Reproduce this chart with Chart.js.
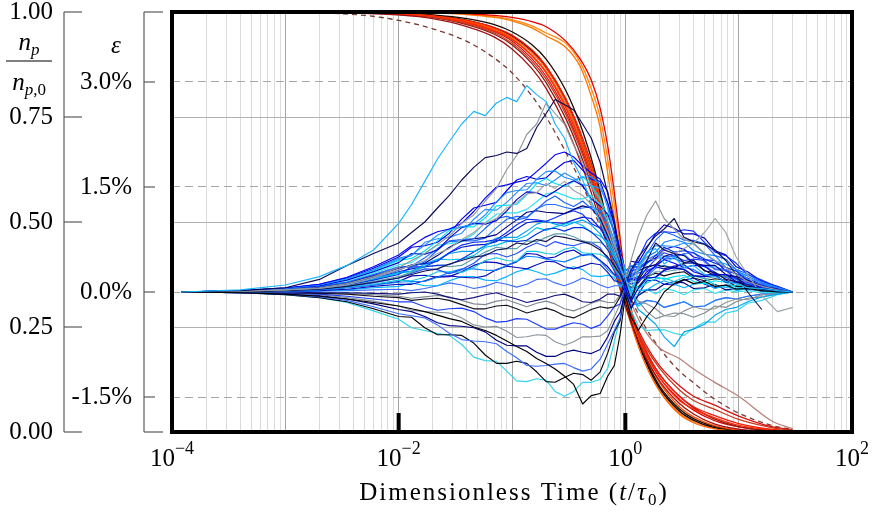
<!DOCTYPE html>
<html>
<head>
<meta charset="utf-8">
<script src="https://cdn.jsdelivr.net/npm/chart.js@4.4.1/dist/chart.umd.min.js"></script>
<style>
  html, body { margin: 0; padding: 0; background: #fff; }
  canvas { display: block; }
</style>
</head>
<body>
<canvas id="lifetimeChart" width="874" height="517"></canvas>
<script>
// =========================
// DATA
// =========================

// tick labels
const xLabelExps = [-4, -2, 0, 2];
const nTicks = [0, 0.25, 0.5, 0.75, 1];
const epsTicks = [-1.5, 0, 1.5, 3.0];

// time grid of the strain (epsilon) traces, t/tau0
const tEps = [0.00012, 0.0004, 0.001, 0.002, 0.0035, 0.006, 0.01, 0.013, 0.017, 0.022,
  0.028, 0.036, 0.046, 0.058, 0.073, 0.09, 0.11, 0.135, 0.165, 0.2,
  0.24, 0.29, 0.35, 0.42, 0.5, 0.6, 0.7, 0.8, 0.9, 1.0,
  1.12, 1.3, 1.55, 1.85, 2.2, 2.7, 3.3, 4.0, 5.0, 6.2,
  7.7, 9.5, 12, 16, 22, 30];

// epsilon traces, in %
const eps01 = [0,.03,.1,.22,.38,.6,.98,1.25,1.58,1.9, 2.15,2.4,2.58,2.52,2.7,2.78,2.72,2.95,2.82,2.72, 2.4,2.2,1.85,1.6,1.3,1.0,.75,.55,.35,.2, -.05,.3,.55,.62,.4,.5,.35,.38,.25,.22, .15,.12,.06,.05,.02,0];
const eps02 = [0,.02,.06,.18,.38,.55,.7,.85,1.0,1.2, 1.38,1.6,1.78,1.92,1.95,2.0,1.98,2.05,2.35,2.55, 2.75,2.68,2.6,2.4,2.2,1.85,1.4,.95,.5,.15, -.1,.2,.45,.7,.6,.55,.42,.45,.3,.28, .18,.15,.08,.05,.02,0];
const eps03 = [0,-.01,-.03,-.06,-.1,-.15,-.2,-.24,-.28,-.33, -.38,-.42,-.5,-.55,-.62,-.7,-.78,-.85,-.95,-1.02, -1.1,-1.2,-1.32,-1.6,-1.48,-1.45,-1.2,-1.05,-.6,-.05, -.35,-.55,-.35,-.2,0,.12,.18,.12,.15,.08, .1,.04,.05,.02,0,0];
const eps04 = [0,.01,.03,.06,.12,.22,.35,.45,.55,.68, .8,.98,1.1,1.3,1.48,1.75,1.95,2.25,2.4,2.7, 2.55,2.4,2.1,1.85,1.5,1.3,1.0,.7,.45,.2, .45,.8,1.1,1.3,1.05,.9,.75,.7,.55,.45, .35,.25,.15,.08,.03,0];
const eps05 = [0,.01,.03,.05,.1,.2,.32,.38,.45,.55, .62,.75,.85,.98,1.05,1.2,1.28,1.4,1.42,1.55, 1.48,1.58,1.45,1.38,1.25,1.1,.85,.6,.35,.15, .1,.35,.5,.45,.6,.55,.62,.7,.85,1.05, .85,.5,.25,-.05,-.28,-.22];
const eps06 = [0,0,.02,.04,.08,.14,.2,.25,.3,.33, .4,.45,.5,.52,.6,.62,.7,.68,.75,.72, .8,.78,.75,.72,.68,.6,.5,.38,.25,.1, .3,.5,.65,.8,.9,1.05,.78,.72,.68,.6, .45,.25,0,-.25,null,null];
const eps07 = [0,.02,.06,.11,.21,.36,.53,.66,.78,.86, .9,.98,1.15,1.34,1.5,1.53,1.57,1.6,1.72,1.84, 1.96,2.0,1.93,1.8,1.7,1.61,1.43,1.02,.52,.15, .19,.17,.25,.38,.46,.41,.35,.38,.37,.25, .25,.15,.14,.06,.04,0];
const eps08 = [0,.02,.05,.1,.19,.32,.48,.53,.67,.81, .9,.93,.97,1.1,1.29,1.42,1.45,1.46,1.61,1.72, 1.73,1.64,1.6,1.64,1.65,1.54,1.2,.8,.54,.25, .2,.37,.57,.66,.66,.65,.7,.69,.55,.44, .4,.32,.19,.14,.06,0];
const eps09 = [0,.02,.05,.09,.17,.29,.42,.55,.54,.6, .77,.92,.98,.97,1.02,1.16,1.32,1.43,1.42,1.36, 1.44,1.53,1.59,1.52,1.33,1.23,1.11,.86,.42,.05, -.13,.05,.2,.21,.31,.35,.32,.23,.22,.24, .14,.14,.11,.04,.02,0];
const eps10 = [0,.02,.05,.1,.18,.3,.45,.48,.59,.73, .88,.93,.93,1.06,1.23,1.24,1.25,1.39,1.55,1.62, 1.55,1.51,1.58,1.65,1.53,1.33,1.07,.85,.54,.3, .17,.05,.18,.22,.18,.22,.24,.15,.12,.16, .14,.06,.06,.05,.02,0];
const eps11 = [0,.01,.04,.08,.14,.25,.36,.35,.43,.6, .73,.75,.76,.91,1.05,1.08,1.03,1.06,1.18,1.3, 1.37,1.28,1.22,1.3,1.19,1.14,1.0,.73,.37,.1, .34,.37,.55,.74,.86,.81,.74,.74,.69,.52, .47,.32,.26,.13,.07,0];
const eps12 = [0,.01,.04,.07,.13,.23,.34,.38,.41,.52, .64,.73,.76,.78,.82,.93,1.03,1.14,1.16,1.14, 1.13,1.12,1.18,1.23,1.2,1.04,.81,.6,.4,.2, .22,.3,.36,.39,.51,.55,.52,.41,.38,.38, .25,.22,.17,.08,.04,0];
const eps13 = [0,.01,.03,.07,.12,.21,.31,.39,.4,.44, .56,.67,.71,.72,.75,.85,.96,1.04,1.03,1.01, 1.06,1.12,1.16,1.11,.98,.91,.81,.62,.31,0, .25,.47,.73,.84,.86,.85,.89,.87,.71,.57, .52,.41,.25,.17,.07,0];
const eps14 = [0,.01,.03,.06,.11,.19,.28,.3,.37,.46, .55,.58,.58,.66,.77,.78,.78,.87,.97,1.01, .97,.94,.99,1.03,.96,.83,.67,.53,.34,.25, .02,-.25,-.35,-.46,-.64,-.78,-.57,-.53,-.46,-.33, -.25,-.22,-.14,-.07,-.03,0];
const eps15 = [0,.01,.03,.05,.1,.17,.25,.36,.36,.38, .39,.47,.57,.66,.74,.73,.72,.74,.83,.9, .91,.87,.92,.92,.86,.74,.6,.45,.3,.15, .3,.33,.41,.52,.64,.57,.59,.56,.47,.41, .35,.3,.16,.05,.06,0];
const eps16 = [0,.01,.02,.05,.09,.15,.22,.28,.36,.38, .36,.38,.48,.57,.64,.62,.62,.73,.72,.78, .83,.83,.79,.73,.71,.71,.63,.43,.21,.1, .03,.18,.2,.29,.29,.31,.33,.24,.19,.22, .23,.14,.05,.07,.03,0];
const eps17 = [0,.01,.02,.04,.08,.13,.2,.27,.33,.32, .26,.32,.41,.54,.55,.5,.55,.64,.7,.65, .72,.68,.66,.7,.71,.63,.47,.3,.19,.2, .22,.27,.31,.36,.47,.48,.42,.41,.37,.28, .2,.22,.18,.06,.04,0];
const eps18 = [0,.01,.02,.04,.07,.11,.17,.16,.21,.29, .29,.28,.35,.45,.49,.45,.44,.58,.58,.55, .54,.61,.64,.56,.55,.54,.48,.33,.2,.05, -.1,.05,.13,.19,.2,.15,.21,.23,.19,.1, .06,.1,.12,.03,-.02,0];
const eps19 = [0,.01,.02,.03,.06,.1,.14,.15,.15,.21, .28,.33,.33,.31,.31,.38,.44,.51,.5,.47, .45,.43,.48,.53,.53,.44,.32,.24,.18,.3, .37,.4,.5,.57,.71,.75,.71,.59,.54,.52, .35,.3,.23,.12,.06,0];
const eps20 = [0,0,.01,.02,.04,.08,.11,.11,.16,.22, .23,.21,.2,.23,.32,.37,.35,.33,.39,.44, .43,.36,.33,.37,.41,.39,.28,.16,.14,.1, .12,.13,.29,.36,.33,.37,.39,.29,.24,.26, .22,.13,.11,.07,.03,0];
const eps21 = [0,0,.01,.02,.03,.06,.08,.13,.09,.09, .16,.22,.22,.17,.16,.22,.29,.33,.29,.24, .27,.32,.36,.32,.23,.22,.24,.21,.07,.15, .12,.02,.03,.11,.16,.11,.06,.11,.13,.05, .09,.02,.05,.01,.02,0];
const eps22 = [0,0,0,.01,.02,.03,.04,.02,.05,.09, .13,.1,.05,.08,.14,.11,.07,.11,.18,.19, .13,.09,.14,.2,.16,.1,.06,.09,.09,.25, .25,.3,.46,.53,.51,.5,.55,.56,.43,.33, .32,.26,.15,.11,.04,0];
const eps23 = [0,0,0,-.01,-.01,-.02,-.03,-.01,0,-.03, -.08,-.11,-.08,-.04,-.01,-.06,-.1,-.15,-.12,-.09, -.05,-.03,-.08,-.14,-.15,-.1,-.03,-.03,-.06,.2, .17,.2,.2,.21,.31,.35,.32,.23,.22,.24, .14,.14,.11,.04,.02,0];
const eps24 = [0,0,-.01,-.02,-.03,-.06,-.08,-.12,-.1,-.09, -.12,-.18,-.24,-.24,-.2,-.19,-.24,-.3,-.26,-.23, -.27,-.34,-.37,-.31,-.25,-.21,-.23,-.21,-.07,.1, .07,.07,.22,.27,.23,.27,.29,.2,.16,.19, .17,.08,.08,.06,.02,0];
const eps25 = [0,-.01,-.02,-.03,-.06,-.1,-.14,-.14,-.21,-.26, -.24,-.23,-.28,-.37,-.43,-.42,-.38,-.39,-.46,-.53, -.53,-.48,-.44,-.46,-.52,-.47,-.34,-.21,-.17,.05, .19,.22,.33,.47,.56,.51,.45,.47,.45,.32, .31,.19,.17,.08,.05,0];
const eps26 = [0,-.01,-.02,-.04,-.08,-.13,-.2,-.26,-.28,-.29, -.3,-.37,-.47,-.5,-.49,-.56,-.65,-.64,-.61,-.62, -.71,-.76,-.71,-.64,-.64,-.63,-.55,-.35,-.17,.15, -.05,-.13,-.17,-.24,-.34,-.35,-.27,-.21,-.25,-.24, -.15,-.1,-.11,-.04,-.02,0];
const eps27 = [0,-.01,-.03,-.05,-.1,-.17,-.25,-.28,-.35,-.44, -.48,-.49,-.51,-.57,-.69,-.76,-.77,-.77,-.86,-.92, -.92,-.86,-.83,-.86,-.88,-.82,-.64,-.42,-.29,0, -.23,-.05,.03,.03,.11,.15,.13,.05,.06,.11, .03,.05,.05,.01,.01,0];
const eps28 = [0,-.01,-.03,-.07,-.12,-.21,-.31,-.34,-.37,-.47, -.59,-.68,-.7,-.71,-.74,-.85,-.94,-1.05,-1.06,-1.05, -1.03,-1.02,-1.08,-1.13,-1.1,-.96,-.74,-.55,-.37,.1, -.18,-.17,-.12,-.14,-.22,-.18,-.14,-.21,-.2,-.12, -.08,-.1,-.06,-.03,-.02,0];
const eps29 = [0,-.01,-.04,-.08,-.14,-.24,-.35,-.36,-.51,-.61, -.61,-.62,-.73,-.9,-1.02,-1.02,-.99,-1.02,-1.14,-1.28, -1.29,-1.22,-1.16,-1.18,-1.26,-1.14,-.87,-.57,-.41,.05, -.15,.17,.35,.39,.36,.35,.41,.42,.31,.23, .24,.2,.1,.08,.03,0];
const eps30 = [0,-.01,-.04,-.08,-.15,-.27,-.39,-.51,-.55,-.59, -.62,-.75,-.93,-.98,-.99,-1.13,-1.27,-1.28,-1.24,-1.26, -1.42,-1.49,-1.42,-1.29,-1.29,-1.25,-1.09,-.71,-.36,0, -.26,-.48,-.55,-.54,-.54,-.59,-.62,-.52,-.43,-.43, -.3,-.27,-.16,-.12,-.04,0];
const eps31 = [0,.02,.05,.11,.2,.34,.5,.64,.66,.71, .84,1.04,1.2,1.24,1.28,1.45,1.6,1.65,1.61,1.63, 1.75,1.85,1.88,1.74,1.61,1.58,1.27,.96,.6,.3, .37,.35,.43,.48,.61,.65,.61,.5,.46,.45, .3,.26,.2,.1,.05,0];
const eps32 = [0,.01,.04,.08,.15,.27,.39,.42,.55,.67, .69,.72,.83,.99,1.11,1.13,1.13,1.18,1.29,1.4, 1.43,1.38,1.33,1.33,1.38,1.25,.99,.67,.44,.2, 0,-.05,.04,-.03,.05,.02,-.04,.03,.05,-.02, .03,0,.02,-.01,0,0];
const eps33 = [0,.01,.04,.08,.14,.24,.35,.37,.49,.62, .72,.73,.73,.77,.92,1.04,1.08,1.07,1.19,1.25, 1.25,1.21,1.18,1.2,1.22,1.16,.93,.62,.3,.1, .16,.17,.22,.34,.38,.33,.35,.32,.23,.26, .24,.18,.07,.01,.05,0];
const eps34 = [0,.01,.03,.06,.1,.18,.27,.29,.4,.47, .46,.47,.52,.64,.67,.72,.75,.81,.92,.88, .93,.97,1.0,.95,.85,.8,.71,.48,.23,.3, .02,-.2,-.12,-.14,-.22,-.18,-.14,-.21,-.2,-.12, -.08,-.1,-.06,-.03,-.02,0];
const eps35 = [0,.01,.02,.03,.06,.1,.15,.23,.24,.21, .22,.29,.38,.43,.42,.38,.43,.55,.54,.48, .5,.57,.6,.52,.55,.45,.36,.25,.18,.15, .44,.42,.63,.83,.96,.91,.83,.83,.77,.59, .53,.36,.29,.15,.08,0];
const eps36 = [0,0,-.01,-.01,-.02,-.04,-.06,-.09,-.07,-.05, -.07,-.12,-.17,-.18,-.13,-.11,-.16,-.21,-.16,-.13, -.17,-.24,-.27,-.22,-.16,-.12,-.15,-.15,-.04,.2, .02,-.13,-.28,-.38,-.34,-.3,-.31,-.36,-.3,-.2, -.22,-.14,-.09,-.07,-.03,0];
const eps37 = [0,.02,.05,.1,.18,.31,.46,.52,.71,.76, .78,.84,1.04,1.18,1.17,1.28,1.42,1.55,1.56,1.52, 1.6,1.7,1.63,1.53,1.52,1.48,1.27,.83,.41,.25, .22,.2,.41,.49,.48,.52,.54,.42,.36,.36, .31,.19,.15,.1,.04,0];
const eps38 = [0,.01,.03,.06,.12,.2,.29,.33,.36,.45, .56,.64,.67,.68,.72,.81,.9,.99,1.01,1.0, .99,.98,1.03,1.07,1.05,.91,.72,.53,.35,.05, -.25,-.03,.16,.17,.11,.1,.17,.2,.11,.06, .1,.09,.03,.04,.01,0];

const epsColors = ["#19b5fe", "#0b0b55", "#000000", "#8e979b", "#9da5a8", "#111150", "#0000ff", "#1e90ff",
  "#0000cd", "#00e1f0", "#1560ff", "#000080", "#0a2aff", "#00a5f0", "#0033e6", "#5c9fa8",
  "#2050ff", "#12c6e0", "#0a80ff", "#0a10c0", "#00b4ff", "#3a6cff", "#10107a", "#101020",
  "#1a3cff", "#8a9499", "#000080", "#3a6cff", "#050510", "#2fd3ea", "#0000e6", "#2ce4f4",
  "#1e6fff", "#00c0f0", "#0000c0", "#7f8a8f", "#2a8cff", "#0018d0"];

// time grid of the population curves
const tDecay = [0.00012, 0.001, 0.005, 0.01, 0.02, 0.04, 0.07, 0.1, 0.15, 0.2, 0.3, 0.4, 0.5, 0.6, 0.7, 0.8, 0.9,
  1.0, 1.2, 1.5, 2, 3, 4, 6, 10, 20, 30];

// n_p / n_p,0 curves
const npDash  = [1, 0.999, 0.992, 0.98, 0.96, 0.93, 0.89, 0.855, 0.8, 0.75, 0.665, 0.598, 0.54, 0.49, 0.447, 0.41, 0.378, 0.35, 0.3, 0.25, 0.2, 0.145, 0.117, 0.08, 0.045, 0.015, 0.006];
const npBrown = [1, 1, 0.998, 0.995, 0.99, 0.975, 0.955, 0.934, 0.898, 0.858, 0.778, 0.7, 0.628, 0.56, 0.498, 0.44, 0.39, 0.35, 0.29, 0.24, 0.2, 0.175, 0.15, 0.12, 0.085, 0.025, 0.008];
const npC1  = [1, 1, 0.997, 0.993, 0.984, 0.965, 0.94, 0.912, 0.865, 0.818, 0.728, 0.645, 0.57, 0.5, 0.44, 0.385, 0.34, 0.3, 0.24, 0.18, 0.122, 0.068, 0.043, 0.02, 0.007, 0.001, 0];
const npC2  = [1, 1, 0.998, 0.995, 0.99, 0.975, 0.955, 0.935, 0.895, 0.855, 0.77, 0.69, 0.615, 0.54, 0.47, 0.41, 0.36, 0.32, 0.255, 0.19, 0.13, 0.075, 0.055, 0.035, 0.016, 0.005, 0.001];
const npC3  = [1, 1, 0.998, 0.996, 0.991, 0.978, 0.96, 0.94, 0.904, 0.866, 0.785, 0.705, 0.63, 0.555, 0.485, 0.42, 0.365, 0.32, 0.25, 0.183, 0.118, 0.06, 0.036, 0.016, 0.005, 0.001, 0];
const npC4  = [1, 1, 0.998, 0.995, 0.988, 0.972, 0.95, 0.926, 0.883, 0.84, 0.755, 0.675, 0.6, 0.527, 0.462, 0.405, 0.358, 0.318, 0.258, 0.204, 0.152, 0.1, 0.075, 0.055, 0.03, 0.01, 0.004];
const npC5  = [1, 1, 0.999, 0.997, 0.993, 0.984, 0.97, 0.953, 0.922, 0.888, 0.812, 0.732, 0.652, 0.572, 0.493, 0.422, 0.362, 0.312, 0.242, 0.176, 0.11, 0.055, 0.032, 0.014, 0.004, 0.001, 0];
const npC6  = [1, 1, 0.999, 0.996, 0.992, 0.98, 0.963, 0.945, 0.91, 0.872, 0.793, 0.715, 0.64, 0.565, 0.495, 0.43, 0.375, 0.33, 0.262, 0.198, 0.138, 0.085, 0.06, 0.04, 0.02, 0.006, 0.002];
const npC7  = [1, 1, 0.998, 0.995, 0.99, 0.976, 0.957, 0.937, 0.898, 0.858, 0.775, 0.695, 0.618, 0.543, 0.472, 0.407, 0.352, 0.303, 0.232, 0.162, 0.098, 0.042, 0.022, 0.008, 0.002, 0, 0];
const npC8  = [1, 1, 0.998, 0.996, 0.992, 0.98, 0.962, 0.943, 0.907, 0.868, 0.788, 0.707, 0.628, 0.55, 0.477, 0.41, 0.355, 0.31, 0.24, 0.17, 0.105, 0.05, 0.028, 0.011, 0.003, 0.001, 0];
const npC9  = [1, 1, 0.998, 0.995, 0.989, 0.974, 0.953, 0.931, 0.889, 0.847, 0.762, 0.682, 0.607, 0.535, 0.47, 0.413, 0.366, 0.326, 0.265, 0.21, 0.158, 0.11, 0.085, 0.065, 0.038, 0.012, 0.005];
const npC10 = [1, 1, 0.998, 0.994, 0.987, 0.97, 0.947, 0.922, 0.877, 0.832, 0.745, 0.663, 0.588, 0.515, 0.452, 0.397, 0.35, 0.31, 0.25, 0.193, 0.138, 0.085, 0.058, 0.032, 0.013, 0.003, 0.001];
const npL1  = [1, 1, 1, 1, 0.999, 0.996, 0.992, 0.987, 0.977, 0.965, 0.93, 0.888, 0.838, 0.77, 0.68, 0.57, 0.46, 0.37, 0.262, 0.19, 0.13, 0.078, 0.052, 0.028, 0.012, 0.003, 0.001];
const npL2  = [1, 1, 1, 0.999, 0.998, 0.994, 0.987, 0.979, 0.962, 0.943, 0.915, 0.87, 0.8, 0.725, 0.615, 0.51, 0.42, 0.34, 0.245, 0.17, 0.1, 0.045, 0.025, 0.01, 0.003, 0, 0];
const npL3  = [1, 1, 1, 0.999, 0.998, 0.995, 0.989, 0.982, 0.967, 0.95, 0.925, 0.88, 0.818, 0.748, 0.648, 0.542, 0.443, 0.356, 0.253, 0.175, 0.105, 0.048, 0.027, 0.011, 0.003, 0, 0];

const npSeries = [npC1, npC2, npC3, npC4, npC5, npC6, npC7, npC8, npC9, npC10, npL1, npL2, npL3, npBrown, npDash];
const npColors = ["#a01010", "#ff2a00", "#ff4a00", "#c8381e", "#1a0a00", "#f01a0a", "#ff6400", "#000000",
  "#d81010", "#8a1a10", "#e60000", "#ff7800", "#ff8c1a", "#b8807a", "#7a3a30"];

const epsSeries = [eps01, eps02, eps03, eps04, eps05, eps06, eps07, eps08, eps09, eps10, eps11, eps12, eps13,
  eps14, eps15, eps16, eps17, eps18, eps19, eps20, eps21, eps22, eps23, eps24, eps25, eps26, eps27, eps28,
  eps29, eps30, eps31, eps32, eps33, eps34, eps35, eps36, eps37, eps38];

// =========================
// DATASETS
// =========================

const datasets = [];

epsSeries.forEach((vals, i) => {
    datasets.push({
        data: vals.map((v, k) => ({ x: tEps[k], y: v })),
        yAxisID: "yE",
        borderColor: epsColors[i],
        borderWidth: 1.15,
        borderJoinStyle: "round",
        pointRadius: 0,
        tension: 0,
        order: 0
    });
});

npSeries.forEach((vals, i) => {
    datasets.push({
        data: vals.map((v, k) => ({ x: tDecay[k], y: v })),
        yAxisID: "yN",
        borderColor: npColors[i],
        borderWidth: 1.3,
        borderDash: vals === npDash ? [5, 4] : [],
        pointRadius: 0,
        cubicInterpolationMode: "monotone",
        order: 1
    });
});

// grid lines of the log axis: 1..9 per decade
const xGridTicks = [];
for (let e = -4; e < 2; e++) {
    for (let m = 1; m <= 9; m++) xGridTicks.push(m * Math.pow(10, e));
}
xGridTicks.push(100);

// =========================
// TEXT / AXIS DECORATION
// =========================

const SERIF = '"Liberation Serif", "DejaVu Serif", serif';
const F_R = "25px " + SERIF;
const F_I = "italic 25px " + SERIF;
const F_S = "17px " + SERIF;
const F_SUP = "18px " + SERIF;
const F_SI = "italic 17px " + SERIF;

function drawRuns(ctx, runs, cx, baseline) {
    let w = 0;
    runs.forEach(r => { ctx.font = r[1]; w += ctx.measureText(r[0]).width; });
    let x = cx - w / 2;
    runs.forEach(r => {
        ctx.font = r[1];
        ctx.fillText(r[0], x, baseline + (r[2] || 0));
        x += ctx.measureText(r[0]).width;
    });
}

const nAxisX = 64;
const epsAxisX = 144;

const decor = {
    id: "decor",
    afterDraw(chart) {
        const { ctx, chartArea: a, scales } = chart;
        const sx = scales.x, sn = scales.yN, se = scales.yE;
        const line = (x1, y1, x2, y2) => { ctx.beginPath(); ctx.moveTo(x1, y1); ctx.lineTo(x2, y2); ctx.stroke(); };

        ctx.save();

        // frame
        ctx.strokeStyle = "#000";
        ctx.lineWidth = 4;
        ctx.strokeRect(a.left, a.top, a.right - a.left, a.bottom - a.top);

        // thick ticks on the bottom edge
        xLabelExps.forEach(e => {
            const px = sx.getPixelForValue(Math.pow(10, e));
            line(px, a.bottom - 19, px, a.bottom);
        });

        // offset y axes
        ctx.strokeStyle = "#5a5a5a";
        ctx.lineWidth = 1.2;
        line(nAxisX, a.top, nAxisX, a.bottom);
        nTicks.forEach(v => { const y = sn.getPixelForValue(v); line(nAxisX, y, nAxisX + 18, y); });
        line(epsAxisX, a.top, epsAxisX, a.bottom);
        line(epsAxisX, a.top, epsAxisX + 19, a.top);
        line(epsAxisX, a.bottom, epsAxisX + 19, a.bottom);
        epsTicks.forEach(v => { const y = se.getPixelForValue(v); line(epsAxisX, y, epsAxisX + 11, y); });

        // text
        ctx.fillStyle = "#000";
        ctx.textAlign = "left";
        ctx.textBaseline = "alphabetic";

        xLabelExps.forEach(e => {
            const px = sx.getPixelForValue(Math.pow(10, e));
            const sup = (e < 0 ? "\u2212" : "") + Math.abs(e);
            drawRuns(ctx, [["10", F_R], [sup, F_SUP, -12]], px, 466);
        });

        ctx.letterSpacing = "2px";
        drawRuns(ctx, [["Dimensionless Time (", F_R], ["t", F_I], ["/", F_R], ["\u03c4", F_I], ["0", F_S, 5], [")", F_R]],
            (a.left + a.right) / 2 + 2, 500);
        ctx.letterSpacing = "0px";

        // n_p / n_p,0
        drawRuns(ctx, [["n", F_I], ["p", F_SI, 5]], 29, 50);
        ctx.strokeStyle = "#000";
        ctx.lineWidth = 1.1;
        line(6, 61, 52, 61);
        drawRuns(ctx, [["n", F_I], ["p", F_SI, 5], [",0", F_S, 5]], 29, 90);

        // epsilon
        drawRuns(ctx, [["\u03b5", F_I]], 116, 53);

        ctx.restore();
    }
};

// =========================
// CHART
// =========================

Chart.defaults.font.family = SERIF;

new Chart(document.getElementById("lifetimeChart"), {
    type: "line",
    data: { datasets },
    options: {
        responsive: false,
        animation: false,
        devicePixelRatio: 1,
        layout: { padding: { left: 0, right: 22, top: 12, bottom: 0 } },
        plugins: {
            legend: { display: false },
            tooltip: { enabled: false }
        },
        scales: {
            x: {
                type: "logarithmic",
                position: "bottom",
                min: 1e-4,
                max: 1e2,
                afterBuildTicks: s => { s.ticks = xGridTicks.map(v => ({ value: v })); },
                afterFit: s => { s.height = 85; s.paddingLeft = 0; s.paddingRight = 0; },
                ticks: { display: false },
                border: { display: false },
                grid: {
                    drawTicks: false,
                    lineWidth: 1,
                    color: c => {
                        const l = Math.log10(c.tick.value);
                        return Math.abs(l - Math.round(l)) < 1e-6 ? "#a4a4a4" : "#dadada";
                    }
                }
            },
            yN: {
                type: "linear",
                position: "left",
                weight: 1,
                min: 0,
                max: 1,
                afterBuildTicks: s => { s.ticks = nTicks.map(v => ({ value: v })); },
                afterFit: s => { s.width = 72; s.paddingTop = 0; s.paddingBottom = 0; },
                ticks: {
                    padding: 19,
                    color: "#000",
                    font: { size: 25 },
                    callback: v => v.toFixed(2)
                },
                border: { display: false },
                grid: { drawTicks: false, color: "#b2b2b2", lineWidth: 1 }
            },
            yE: {
                type: "linear",
                position: "left",
                weight: 0,
                min: -2,
                max: 4,
                afterBuildTicks: s => { s.ticks = epsTicks.map(v => ({ value: v })); },
                afterFit: s => { s.width = 100; s.paddingTop = 0; s.paddingBottom = 0; },
                ticks: {
                    padding: 40,
                    color: "#000",
                    font: { size: 25 },
                    callback: v => (v < 0 ? "-" : "") + Math.abs(v).toFixed(1) + "%"
                },
                border: { display: false, dash: [8, 5] },
                grid: { drawTicks: false, color: "#a8a8a8", lineWidth: 1 }
            }
        }
    },
    plugins: [decor]
});
</script>
</body>
</html>
